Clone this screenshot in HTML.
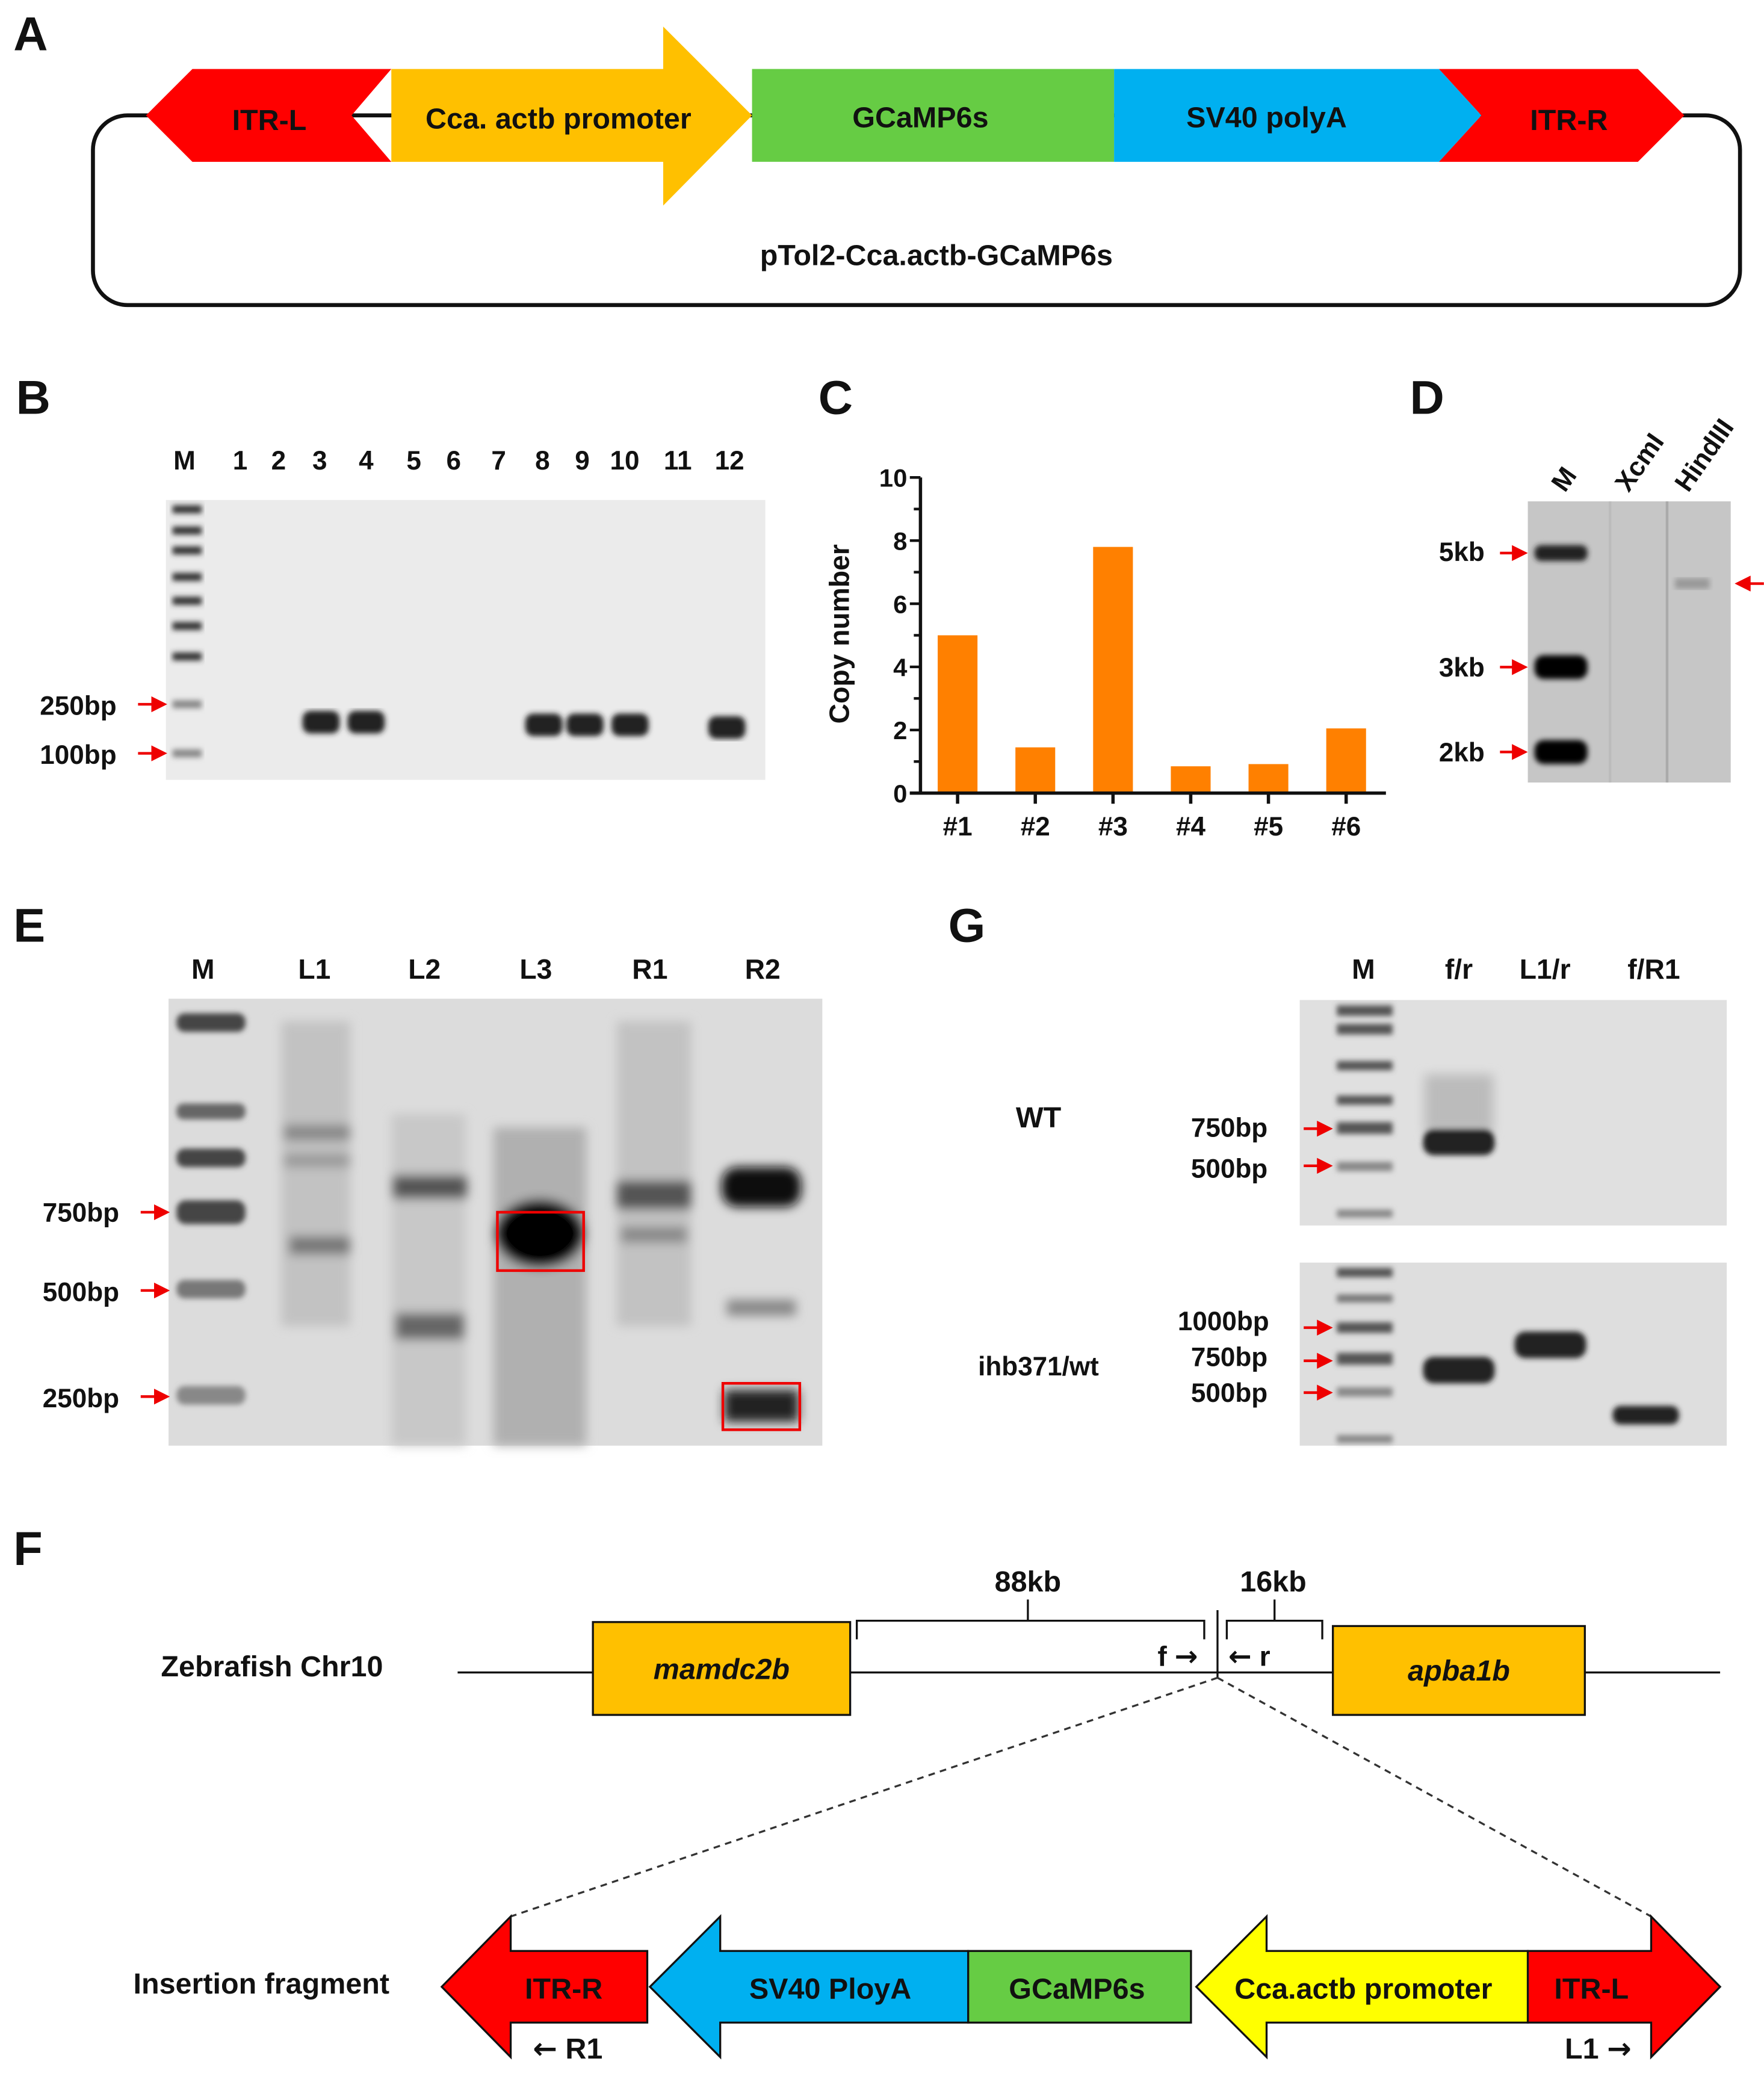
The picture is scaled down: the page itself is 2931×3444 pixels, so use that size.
<!DOCTYPE html>
<html><head><meta charset="utf-8">
<style>
html,body{margin:0;padding:0;background:#fff;}
svg{display:block;}
text{font-family:"Liberation Sans",Arial,sans-serif;font-weight:bold;fill:#111;}
.ar{font-family:"DejaVu Sans",sans-serif;font-weight:bold;}
</style></head>
<body>
<svg id="fig" width="2931" height="3444" viewBox="0 0 1330 1563" xmlns="http://www.w3.org/2000/svg">
<defs>
<filter id="blur2"><feGaussianBlur stdDeviation="2"/></filter>
<filter id="blur4"><feGaussianBlur stdDeviation="4"/></filter>
<marker id="ra" markerWidth="6" markerHeight="6" refX="5" refY="3" orient="auto"><path d="M0,0 L6,3 L0,6 z" fill="#e00"/></marker>
</defs>

<g>
<text x="10" y="38" font-size="36">A</text>
<rect x="70" y="87" width="1242" height="143" rx="26" fill="none" stroke="#111" stroke-width="3"/>
<polygon points="110,87 145,52 295,52 265,87 295,122 145,122" fill="#f00"/>
<text x="203" y="98" font-size="22" text-anchor="middle" font-weight="normal">ITR-L</text>
<polygon points="295,52 500,52 500,20 567,87 500,155 500,122 295,122" fill="#ffc000"/>
<text x="421" y="97" font-size="22" text-anchor="middle">Cca. actb promoter</text>
<rect x="567" y="52" width="273" height="70" fill="#66cc44"/>
<text x="694" y="96" font-size="22" text-anchor="middle">GCaMP6s</text>
<polygon points="840,52 1085,52 1117,87 1085,122 840,122" fill="#00b0f0"/>
<text x="955" y="96" font-size="22" text-anchor="middle">SV40 polyA</text>
<polygon points="1085,52 1235,52 1270,87 1235,122 1085,122 1117,87" fill="#f00"/>
<text x="1183" y="98" font-size="22" text-anchor="middle" font-weight="normal">ITR-R</text>
<text x="706" y="200" font-size="22" text-anchor="middle">pTol2-Cca.actb-GCaMP6s</text>
</g>

<g>
<text x="12" y="312" font-size="36">B</text>
<rect x="125" y="377" width="452" height="211" fill="#ebebeb"/>
<g font-size="20" text-anchor="middle">
<text x="139" y="354">M</text><text x="181" y="354">1</text><text x="210" y="354">2</text><text x="241" y="354">3</text><text x="276" y="354">4</text><text x="312" y="354">5</text><text x="342" y="354">6</text><text x="376" y="354">7</text><text x="409" y="354">8</text><text x="439" y="354">9</text><text x="471" y="354">10</text><text x="511" y="354">11</text><text x="550" y="354">12</text>
</g>
<g fill="#333" filter="url(#blur2)">
<rect x="130" y="381" width="22" height="6"/><rect x="130" y="397" width="22" height="6"/><rect x="130" y="412" width="22" height="6"/><rect x="130" y="432" width="22" height="6"/><rect x="130" y="450" width="22" height="6"/><rect x="130" y="469" width="22" height="6"/><rect x="130" y="492" width="22" height="6"/><rect x="130" y="528" width="22" height="6" fill="#888"/><rect x="130" y="565" width="22" height="6" fill="#888"/>
</g>
<g fill="#222" filter="url(#blur2)">
<rect x="228" y="536" width="28" height="17" rx="6"/><rect x="262" y="536" width="28" height="17" rx="6"/><rect x="396" y="538" width="28" height="17" rx="6"/><rect x="427" y="538" width="28" height="17" rx="6"/><rect x="461" y="538" width="28" height="17" rx="6"/><rect x="534" y="540" width="28" height="17" rx="6"/>
</g>
<text x="30" y="539" font-size="20">250bp</text>
<text x="30" y="576" font-size="20">100bp</text>
<line x1="104" y1="531" x2="124" y2="531" stroke="#e00" stroke-width="2" marker-end="url(#ra)"/>
<line x1="104" y1="568" x2="124" y2="568" stroke="#e00" stroke-width="2" marker-end="url(#ra)"/>
</g>

<g id="chartC">
<text x="617" y="312" font-size="36">C</text>
<text transform="translate(640,478) rotate(-90)" font-size="21" text-anchor="middle" font-weight="normal">Copy number</text>
</g>

<g>
<text x="1063" y="312" font-size="36">D</text>
<rect x="1152" y="378" width="153" height="212" fill="#c6c6c6"/>
<rect x="1256" y="378" width="2" height="212" fill="#aaa"/>
<rect x="1213" y="378" width="2" height="212" fill="#bbb"/>
<g font-size="20">
<text transform="translate(1180,372) rotate(-55)">M</text>
<text transform="translate(1228,372) rotate(-55)">XcmI</text>
<text transform="translate(1273,372) rotate(-55)">HindIII</text>
</g>
<g fill="#000" filter="url(#blur2)">
<rect x="1157" y="411" width="40" height="12" rx="5" fill="#222"/><rect x="1157" y="494" width="40" height="18" rx="7"/><rect x="1157" y="558" width="40" height="18" rx="7"/>
</g>
<rect x="1263" y="436" width="26" height="8" fill="#999" filter="url(#blur2)"/>
<text x="1085" y="423" font-size="20">5kb</text>
<text x="1085" y="510" font-size="20">3kb</text>
<text x="1085" y="574" font-size="20">2kb</text>
<line x1="1131" y1="417" x2="1150" y2="417" stroke="#e00" stroke-width="2" marker-end="url(#ra)"/>
<line x1="1131" y1="503" x2="1150" y2="503" stroke="#e00" stroke-width="2" marker-end="url(#ra)"/>
<line x1="1131" y1="567" x2="1150" y2="567" stroke="#e00" stroke-width="2" marker-end="url(#ra)"/>
<line x1="1330" y1="440" x2="1310" y2="440" stroke="#e00" stroke-width="2" marker-end="url(#ra)"/>
</g>

<g>
<text x="10" y="710" font-size="36">E</text>
<rect x="127" y="753" width="493" height="337" fill="#dcdcdc"/>
<g font-size="21" text-anchor="middle">
<text x="153" y="738">M</text><text x="237" y="738">L1</text><text x="320" y="738">L2</text><text x="404" y="738">L3</text><text x="490" y="738">R1</text><text x="575" y="738">R2</text>
</g>
<g fill="#444" filter="url(#blur2)">
<rect x="133" y="764" width="52" height="14" rx="6"/><rect x="133" y="832" width="52" height="12" rx="5" fill="#666"/><rect x="133" y="866" width="52" height="14" rx="6"/><rect x="133" y="905" width="52" height="18" rx="7"/><rect x="133" y="965" width="52" height="14" rx="6" fill="#777"/><rect x="133" y="1045" width="52" height="14" rx="6" fill="#888"/>
</g>
<g filter="url(#blur4)">
<rect x="212" y="770" width="52" height="230" fill="#c2c2c2"/>
<rect x="214" y="848" width="50" height="12" fill="#888"/><rect x="214" y="870" width="50" height="10" fill="#999"/><rect x="218" y="932" width="46" height="14" fill="#777"/>
<rect x="295" y="840" width="56" height="250" fill="#c8c8c8"/>
<rect x="296" y="886" width="56" height="18" fill="#555"/><rect x="298" y="990" width="52" height="20" fill="#666"/>
<rect x="372" y="850" width="70" height="240" fill="#b0b0b0"/>
<ellipse cx="407" cy="930" rx="34" ry="26" fill="#000"/>
<rect x="465" y="770" width="56" height="230" fill="#c2c2c2"/>
<rect x="465" y="890" width="56" height="22" fill="#555"/><rect x="468" y="925" width="50" height="12" fill="#888"/>
<rect x="544" y="880" width="60" height="30" rx="12" fill="#111"/><rect x="548" y="980" width="52" height="12" fill="#888"/><rect x="546" y="1048" width="56" height="24" fill="#222"/>
</g>
<rect x="375" y="914" width="65" height="44" fill="none" stroke="#e00" stroke-width="2"/>
<rect x="545" y="1043" width="58" height="35" fill="none" stroke="#e00" stroke-width="2"/>
<text x="32" y="921" font-size="20">750bp</text>
<text x="32" y="981" font-size="20">500bp</text>
<text x="32" y="1061" font-size="20">250bp</text>
<line x1="106" y1="914" x2="126" y2="914" stroke="#e00" stroke-width="2" marker-end="url(#ra)"/>
<line x1="106" y1="973" x2="126" y2="973" stroke="#e00" stroke-width="2" marker-end="url(#ra)"/>
<line x1="106" y1="1053" x2="126" y2="1053" stroke="#e00" stroke-width="2" marker-end="url(#ra)"/>
</g>

<g>
<text x="715" y="710" font-size="36">G</text>
<g font-size="21" text-anchor="middle">
<text x="1028" y="738">M</text><text x="1100" y="738">f/r</text><text x="1165" y="738">L1/r</text><text x="1247" y="738">f/R1</text>
</g>
<rect x="980" y="754" width="322" height="170" fill="#e0e0e0"/>
<rect x="980" y="952" width="322" height="138" fill="#dedede"/>
<g fill="#555" filter="url(#blur2)">
<rect x="1008" y="758" width="42" height="8"/><rect x="1008" y="772" width="42" height="8"/><rect x="1008" y="800" width="42" height="7"/><rect x="1008" y="826" width="42" height="7"/><rect x="1008" y="846" width="42" height="9"/><rect x="1008" y="876" width="42" height="7" fill="#888"/><rect x="1008" y="912" width="42" height="6" fill="#888"/>
<rect x="1008" y="956" width="42" height="7"/><rect x="1008" y="976" width="42" height="6" fill="#777"/><rect x="1008" y="997" width="42" height="8"/><rect x="1008" y="1020" width="42" height="9"/><rect x="1008" y="1046" width="42" height="7" fill="#888"/><rect x="1008" y="1082" width="42" height="6" fill="#888"/>
</g>
<g filter="url(#blur2)">
<rect x="1074" y="810" width="52" height="45" fill="#bbb" filter="url(#blur4)"/>
<rect x="1073" y="851" width="54" height="20" rx="8" fill="#222"/>
<rect x="1073" y="1023" width="54" height="20" rx="8" fill="#222"/>
<rect x="1142" y="1004" width="54" height="20" rx="8" fill="#222"/>
<rect x="1216" y="1060" width="50" height="14" rx="6" fill="#222"/>
</g>
<text x="783" y="850" font-size="22" text-anchor="middle">WT</text>
<text x="783" y="1037" font-size="20" text-anchor="middle">ihb371/wt</text>
<text x="898" y="857" font-size="20">750bp</text>
<text x="898" y="888" font-size="20">500bp</text>
<text x="888" y="1003" font-size="20">1000bp</text>
<text x="898" y="1030" font-size="20">750bp</text>
<text x="898" y="1057" font-size="20">500bp</text>
<line x1="983" y1="851" x2="1003" y2="851" stroke="#e00" stroke-width="2" marker-end="url(#ra)"/>
<line x1="983" y1="879" x2="1003" y2="879" stroke="#e00" stroke-width="2" marker-end="url(#ra)"/>
<line x1="983" y1="1001" x2="1003" y2="1001" stroke="#e00" stroke-width="2" marker-end="url(#ra)"/>
<line x1="983" y1="1026" x2="1003" y2="1026" stroke="#e00" stroke-width="2" marker-end="url(#ra)"/>
<line x1="983" y1="1050" x2="1003" y2="1050" stroke="#e00" stroke-width="2" marker-end="url(#ra)"/>
</g>

<g>
<text x="10" y="1180" font-size="36">F</text>
<text x="205" y="1264" font-size="22" text-anchor="middle">Zebrafish Chr10</text>
<line x1="345" y1="1261" x2="1297" y2="1261" stroke="#111" stroke-width="1.5"/>
<rect x="447" y="1223" width="194" height="70" fill="#ffc000" stroke="#111" stroke-width="1.5"/>
<text x="544" y="1266" font-size="22" text-anchor="middle" font-style="italic">mamdc2b</text>
<rect x="1005" y="1226" width="190" height="67" fill="#ffc000" stroke="#111" stroke-width="1.5"/>
<text x="1100" y="1267" font-size="22" text-anchor="middle" font-style="italic">apba1b</text>
<path d="M646,1236 V1222 H775 V1206 M775,1222 H908 V1236" fill="none" stroke="#111" stroke-width="1.5"/>
<path d="M925,1236 V1222 H961 V1206 M961,1222 H997 V1236" fill="none" stroke="#111" stroke-width="1.5"/>
<text x="775" y="1200" font-size="22" text-anchor="middle">88kb</text>
<text x="960" y="1200" font-size="22" text-anchor="middle">16kb</text>
<line x1="918" y1="1214" x2="918" y2="1265" stroke="#111" stroke-width="1.5"/>
<text x="888" y="1256" font-size="21" text-anchor="middle">f <tspan class="ar">→</tspan></text>
<text x="942" y="1256" font-size="21" text-anchor="middle"><tspan class="ar">←</tspan> r</text>
<line x1="918" y1="1265" x2="385" y2="1445" stroke="#333" stroke-width="1.5" stroke-dasharray="5,4"/>
<line x1="918" y1="1265" x2="1245" y2="1445" stroke="#333" stroke-width="1.5" stroke-dasharray="5,4"/>
<text x="197" y="1503" font-size="22" text-anchor="middle">Insertion fragment</text>
<polygon points="333,1498 385,1445 385,1471 488,1471 488,1525 385,1525 385,1551" fill="#f00" stroke="#111" stroke-width="1.5"/>
<text x="425" y="1507" font-size="22" text-anchor="middle" font-weight="normal">ITR-R</text>
<polygon points="490,1498 543,1445 543,1471 730,1471 730,1525 543,1525 543,1551" fill="#00b0f0" stroke="#111" stroke-width="1.5"/>
<text x="626" y="1507" font-size="22" text-anchor="middle" font-weight="normal">SV40 PloyA</text>
<rect x="730" y="1471" width="168" height="54" fill="#66cc44" stroke="#111" stroke-width="1.5"/>
<text x="812" y="1507" font-size="22" text-anchor="middle" font-weight="normal">GCaMP6s</text>
<polygon points="902,1498 955,1445 955,1471 1152,1471 1152,1525 955,1525 955,1551" fill="#ffff00" stroke="#111" stroke-width="1.5"/>
<text x="1028" y="1507" font-size="22" text-anchor="middle" font-weight="normal">Cca.actb promoter</text>
<polygon points="1152,1471 1245,1471 1245,1445 1297,1498 1245,1551 1245,1525 1152,1525" fill="#f00" stroke="#111" stroke-width="1.5"/>
<text x="1200" y="1507" font-size="22" text-anchor="middle" font-weight="normal">ITR-L</text>
<text x="428" y="1552" font-size="22" text-anchor="middle"><tspan class="ar">←</tspan> R1</text>
<text x="1205" y="1552" font-size="22" text-anchor="middle">L1 <tspan class="ar">→</tspan></text>
</g>
</svg>

<script>
const categories = ["#1","#2","#3","#4","#5","#6"];
const copyNumbers = [5.0, 1.45, 7.8, 0.85, 0.92, 2.05];
const yTicks = [0, 2, 4, 6, 8, 10];

const NS = "http://www.w3.org/2000/svg";
const g = document.getElementById("chartC");
const x0 = 694, x1 = 1045, yBase = 598, yTop = 360, yMax = 10;
function yScale(v){ return yBase - (v / yMax) * (yBase - yTop); }
function xScale(i){ return 722 + i * ((1015 - 722) / (categories.length - 1)); }
function mk(tag, attrs){ const e = document.createElementNS(NS, tag); for (const k in attrs) e.setAttribute(k, attrs[k]); return e; }

copyNumbers.forEach((v, i) => {
  const r = mk("rect", {x: xScale(i) - 15, y: yScale(v), width: 30, height: yBase - yScale(v), fill: "#ff8000"});
  
  
  g.appendChild(r);
  g.appendChild(mk("line", {x1: xScale(i), y1: yBase, x2: xScale(i), y2: yBase + 8, stroke: "#111", "stroke-width": 2.5}));
  const lbl = mk("text", {x: xScale(i), y: yBase + 32, "font-size": 20, "text-anchor": "middle"});
  lbl.textContent = categories[i];
  
  
  g.appendChild(lbl);
});
const yAxis = mk("line", {x1: x0, y1: yTop, x2: x0, y2: yBase + 1, stroke: "#111", "stroke-width": 2.5});


g.appendChild(yAxis);
const xAxis = mk("line", {x1: x0 - 8, y1: yBase, x2: x1, y2: yBase, stroke: "#111", "stroke-width": 2.5});


g.appendChild(xAxis);
for (let v = 0; v <= yMax; v++) {
  g.appendChild(mk("line", {x1: x0 - (v % 2 === 0 ? 8 : 5), y1: yScale(v), x2: x0, y2: yScale(v), stroke: "#111", "stroke-width": 2}));
}
yTicks.forEach(v => {
  const lbl = mk("text", {x: x0 - 10, y: yScale(v) + 7, "font-size": 19, "text-anchor": "end", "font-weight": "normal"});
  lbl.textContent = v;
  
  
  g.appendChild(lbl);
});
</script>
</body></html>
